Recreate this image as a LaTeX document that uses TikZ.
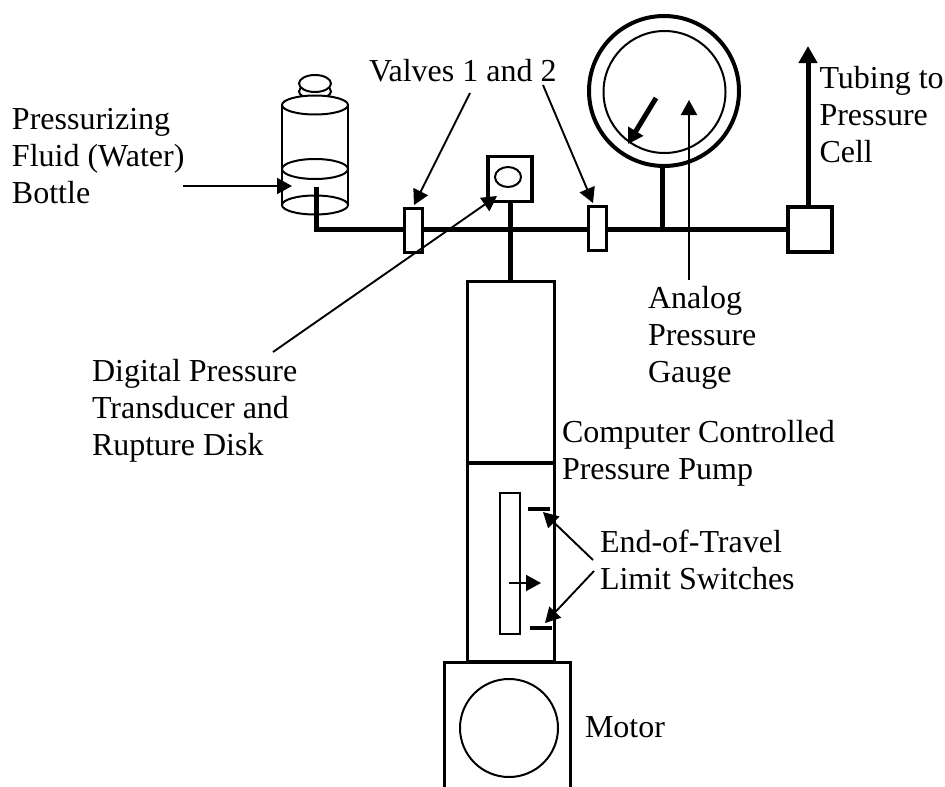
\documentclass[tikz,border=0pt]{standalone}
\usepackage{fontspec}
\setmainfont{Liberation Serif}
\usetikzlibrary{arrows.meta,shapes.geometric}
\tikzset{
  lab/.style={inner sep=0pt,outer sep=0pt,align=left,anchor=base west,font=\fontsize{32}{37}\selectfont},
  pipe/.style={line width=5pt,line join=miter},
  boxa/.style={draw,fill=white,line width=3.8pt,inner sep=0pt,outer sep=0pt,rectangle},
  thin outline/.style={line width=2pt},
  pointer/.style={line width=1.9pt,-{Triangle[length=15pt,width=16pt]},shorten >=0pt},
  bigptr/.style={line width=5pt,-{Triangle[length=17pt,width=18pt]}},
  gaugeptr/.style={line width=5pt,-{Triangle[length=15pt,width=17pt]}},
  switchbar/.style={line width=3.8pt},
}
\begin{document}
\begin{tikzpicture}[x=1pt,y=-1pt]
\useasboundingbox (0,0) rectangle (945,787);
% bottle
\draw[thin outline,fill=white] (315,91.5) ellipse [x radius=16,y radius=7.5];
\draw[thin outline,fill=white] (315,83.5) ellipse [x radius=16,y radius=8.5];
\draw[thin outline] (282,105) -- (282,205) (348,105) -- (348,205);
\node[draw,fill=white,thin outline,ellipse,minimum width=66pt,minimum height=19pt,inner sep=0pt] (bottletop) at (315,105) {};
\draw[thin outline] (315,169) ellipse [x radius=33,y radius=10];
\draw[thin outline] (315,205) ellipse [x radius=33,y radius=9.5];
% coordinates for pipe
\coordinate (dip) at (316,187);
\coordinate (elbow) at (316,229.5);
% boxes
\node[boxa,minimum width=44.5pt,minimum height=45pt] (cellbox) at (810,229.5) {};
\node[boxa,minimum width=44.5pt,minimum height=45pt] (xducer) at (510,179) {};
\draw[thin outline] (508,177) ellipse [x radius=13,y radius=10];
\node[boxa,minimum width=87pt,minimum height=181pt] (pumptop) at (511,372) {};
\node[boxa,minimum width=87pt,minimum height=199pt] (pumpbot) at (511,562.5) {};
% pipes
\draw[pipe] (dip) -- (elbow) -- (cellbox.west);
\draw[pipe] (xducer.south) -- (xducer.south |- pumptop.north);
\draw[pipe] (662,165) -- (662,229);
% valves
\node[boxa,line width=3pt,minimum width=18pt,minimum height=44.5pt] (valve1) at (413.5,230.5) {};
\node[boxa,line width=3pt,minimum width=18pt,minimum height=44.5pt] (valve2) at (597.5,228.5) {};
% gauge
\node[draw,fill=white,circle,line width=4pt,minimum size=150pt,inner sep=0pt] (gauge) at (664,91) {};
\node[draw,circle,thin outline,minimum size=122pt,inner sep=0pt] (dial) at (664.5,92) {};
\coordinate (needleA) at (656,98);
\coordinate (needleB) at (628,144);
\draw[gaugeptr] (needleA) -- (needleB);
% tubing arrow
\coordinate (tubetip) at (808,46);
\draw[bigptr] (cellbox.north -| tubetip) -- (tubetip);
% piston, motor
\node[draw,line width=1.4pt,minimum width=20pt,minimum height=141pt,inner sep=0pt] (piston) at (510,563.5) {};
\coordinate (pusha) at (509,583);
\coordinate (pushb) at (541,583);
\draw[pointer] (pusha) -- (pushb);
\coordinate (swaL) at (528,509); \coordinate (swaR) at (550,509);
\coordinate (swbL) at (530,628); \coordinate (swbR) at (552,628);
\draw[switchbar] (swaL) -- (swaR);
\draw[switchbar] (swbL) -- (swbR);
\draw[line width=3.8pt,fill=white] (444.5,787) -- (444.5,662.5) -- (570.5,662.5) -- (570.5,787);
\node[draw,circle,thin outline,minimum size=98pt,inner sep=0pt] (rotor) at (509,728) {};
% labels
\node[lab] (fluidl) at (12,203) {Pressurizing\\Fluid (Water)\\Bottle};
\node[lab] (valvel) at (369,81) {Valves 1 and 2};
\node[lab] (tubel) at (819.5,162) {Tubing to\\Pressure\\Cell};
\node[lab] (gaugel) at (648,382) {Analog\\Pressure\\Gauge};
\node[lab] (xducerl) at (92,455) {Digital Pressure\\Transducer and\\Rupture Disk};
\node[lab] (pumpl) at (562,479.5) {Computer Controlled\\Pressure Pump};
\node[lab] (limitl) at (600,589.5) {End-of-Travel\\Limit Switches};
\node[lab] (motorl) at (585,737) {Motor};
% pointers
\coordinate (f0) at (183,186); \coordinate (f1) at (292,186);
\draw[pointer] (f0) -- (f1);
\coordinate (v1a) at (470,93); \coordinate (v1b) at (414,205);
\draw[pointer] (v1a) -- (v1b);
\coordinate (v2a) at (543,85); \coordinate (v2b) at (593,203);
\draw[pointer] (v2a) -- (v2b);
\coordinate (da) at (273,352); \coordinate (db) at (497,196);
\draw[pointer] (da) -- (db);
\coordinate (ga) at (689,280); \coordinate (gb) at (689,100);
\draw[pointer] (ga) -- (gb);
\coordinate (la) at (593,560); \coordinate (lb) at (543,512);
\draw[pointer] (la) -- (lb);
\coordinate (lc) at (594,571); \coordinate (ld) at (545,623);
\draw[pointer] (lc) -- (ld);
\end{tikzpicture}
\end{document}
